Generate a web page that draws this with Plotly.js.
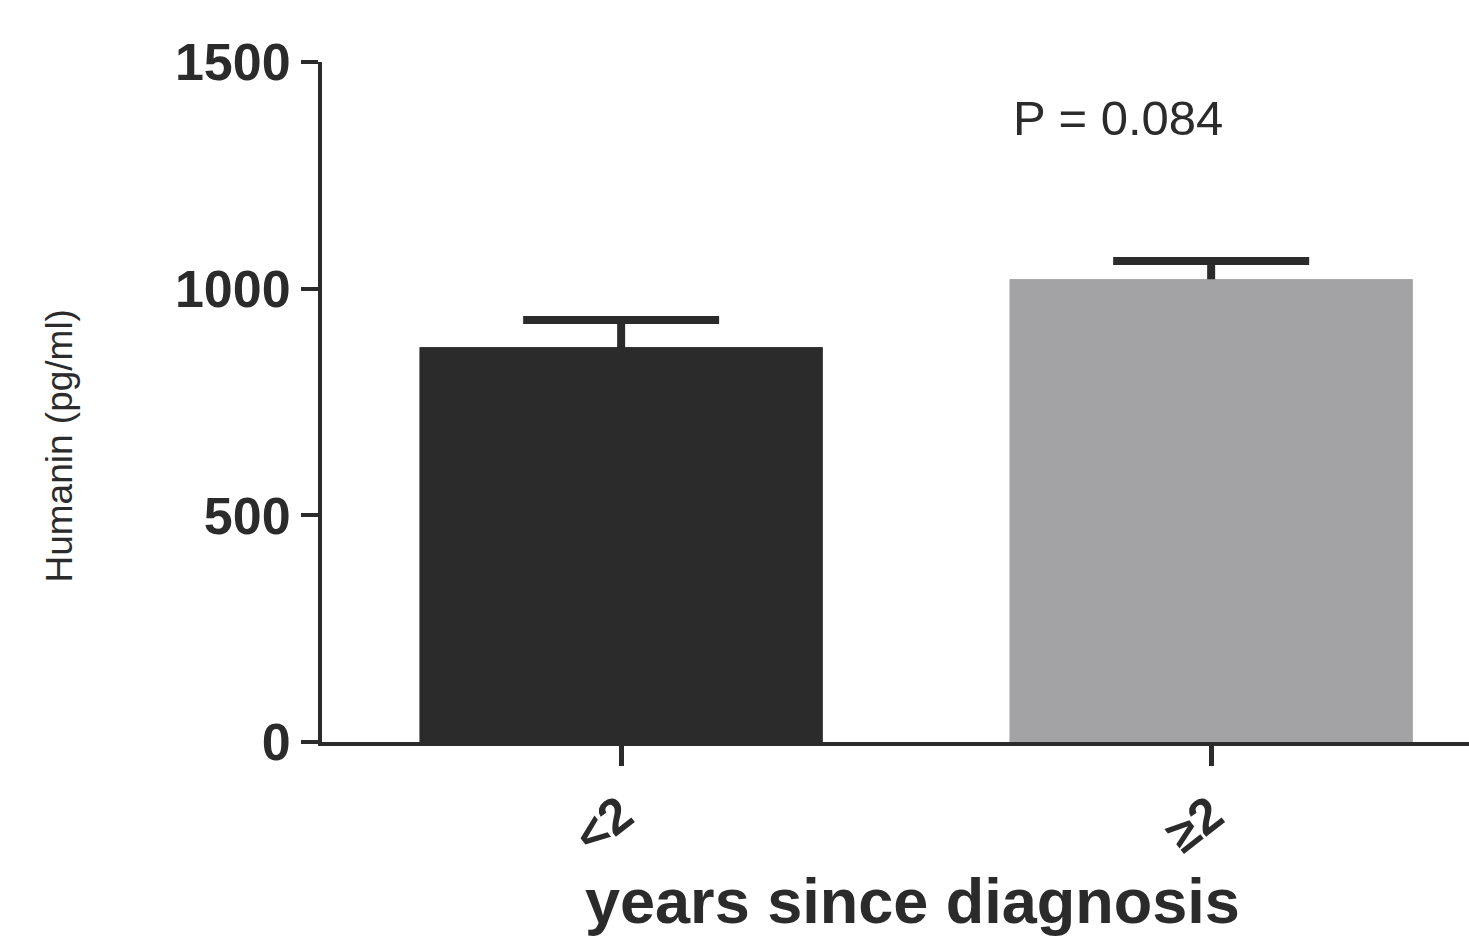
<!DOCTYPE html>
<html>
<head>
<meta charset="utf-8">
<script src="https://cdn.plot.ly/plotly-3.0.1.min.js"></script>
<style>html,body{margin:0;padding:0;background:#fff;}#chart{width:1469px;height:936px;}</style>
</head>
<body>
<div id="chart"></div>
<script>
const categories = ["<2", "≥2"];
const means = [871, 1021];
const sem = [60, 40];
const barColors = ["#2b2b2b", "#a3a3a5"];
const yTicks = [0, 500, 1000, 1500];
const pLabel = "P = 0.084";
const xTitle = "years since diagnosis";
const yTitle = "Humanin (pg/ml)";

const ink = "#2b2b2b";
const font = "Liberation Sans, Arial, sans-serif";
const positions = categories.map((_, i) => i);

// bars carrying the (upper) error bars
const errTrace = {
  type: "bar",
  x: positions,
  y: means,
  width: 0.683,
  marker: {color: barColors, line: {width: 0}},
  error_y: {
    type: "data", symmetric: false, array: sem, arrayminus: [15, 15],
    color: ink, thickness: 8, width: 98
  },
  hoverinfo: "skip"
};
// same bars drawn on top, hiding the part of the error bar inside the bar
const barTrace = {
  type: "bar",
  x: positions,
  y: means,
  width: 0.683,
  marker: {color: barColors, line: {width: 0}},
  hoverinfo: "skip"
};

const layout = {
  width: 1469, height: 936,
  margin: {l: 322, r: 0, t: 62, b: 194},
  paper_bgcolor: "#fff", plot_bgcolor: "#fff",
  showlegend: false,
  barmode: "overlay",
  font: {family: font, color: ink},
  xaxis: {
    range: [-0.507, 1.437],
    tickmode: "array", tickvals: positions, ticktext: categories,
    tickangle: -38,
    ticks: "outside", ticklen: 20, tickwidth: 5, tickcolor: ink,
    showline: true, linewidth: 4, linecolor: ink,
    showgrid: false, zeroline: false,
    tickfont: {family: font, size: 50, color: ink, weight: "bold"}
  },
  yaxis: {
    range: [0, 1500],
    tickmode: "array", tickvals: yTicks,
    ticks: "outside", ticklen: 17, tickwidth: 4, tickcolor: ink,
    showline: true, linewidth: 4, linecolor: ink,
    showgrid: false, zeroline: false,
    tickfont: {family: font, size: 52, color: ink, weight: "bold"}
  },
  annotations: [
    {
      xref: "x", yref: "y", x: 0.842, y: 1376,
      text: pLabel, showarrow: false,
      xanchor: "center", yanchor: "middle",
      font: {family: font, size: 49, color: ink}
    },
    {
      xref: "paper", yref: "paper", x: 0.515, y: -0.234,
      text: xTitle, showarrow: false,
      xanchor: "center", yanchor: "middle",
      font: {family: font, size: 63, color: ink, weight: "bold"}
    },
    {
      xref: "paper", yref: "paper", x: -0.229, y: 0.435,
      text: yTitle, showarrow: false, textangle: -90,
      xanchor: "center", yanchor: "middle",
      font: {family: font, size: 37, color: ink}
    }
  ]
};

Plotly.newPlot("chart", [errTrace, barTrace], layout, {staticPlot: true, displayModeBar: false});
</script>
</body>
</html>
